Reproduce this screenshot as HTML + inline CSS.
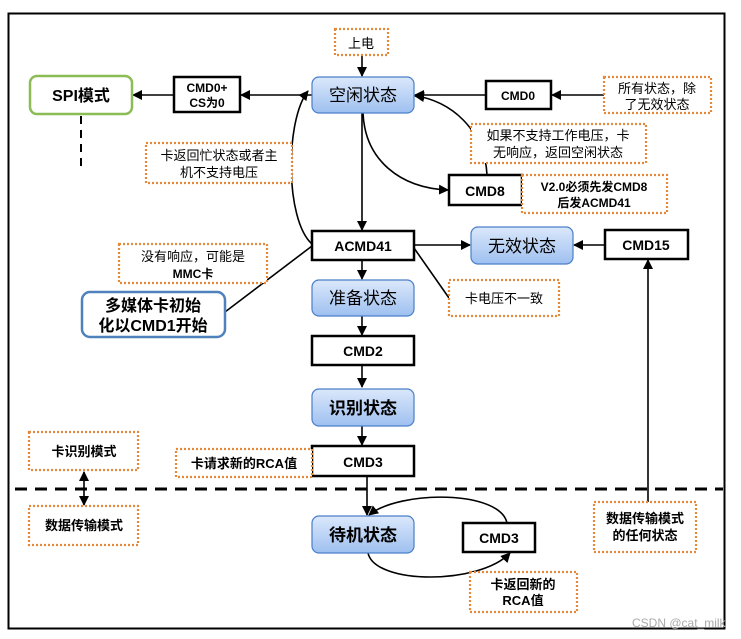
<!DOCTYPE html>
<html><head><meta charset="utf-8"><style>
html,body{margin:0;padding:0;background:#fff;}
svg{display:block;font-family:"Liberation Sans","Noto Sans CJK SC",sans-serif;}
</style></head><body>
<svg width="741" height="639" viewBox="0 0 741 639" xmlns="http://www.w3.org/2000/svg">
<defs>
<linearGradient id="bg" x1="0" y1="0" x2="0" y2="1"><stop offset="0" stop-color="#dbe8fb"/><stop offset="1" stop-color="#9ec0f0"/></linearGradient>
<marker id="a" markerWidth="10" markerHeight="10" refX="9" refY="5" orient="auto-start-reverse" markerUnits="userSpaceOnUse"><path d="M0,0 L10,5 L0,10 z" fill="#000"/></marker>
</defs>
<rect x="8.5" y="13.5" width="716" height="615" fill="none" stroke="#000" stroke-width="2"/>
<g fill="none" stroke="#000" stroke-width="1.6">
<line x1="362" y1="55" x2="362" y2="76" marker-end="url(#a)"/>
<line x1="312" y1="95" x2="241" y2="95" marker-end="url(#a)"/>
<line x1="174" y1="95" x2="133" y2="95" marker-end="url(#a)"/>
<line x1="486" y1="95" x2="415" y2="95" marker-end="url(#a)"/>
<line x1="604" y1="95" x2="552" y2="95" marker-end="url(#a)"/>
<line x1="362" y1="113" x2="362" y2="230" marker-end="url(#a)"/>
<path d="M363,113 C365,160 400,188 448,190" marker-end="url(#a)"/>
<path d="M487,175 C485,130 450,100 415,96" marker-end="url(#a)"/>
<path d="M312,244 C285,220 285,120 308,91" marker-end="url(#a)"/>
<line x1="312" y1="246" x2="225" y2="312"/>
<line x1="414" y1="248" x2="449" y2="298"/>
<line x1="414" y1="245" x2="470" y2="245" marker-end="url(#a)"/>
<line x1="605" y1="245" x2="574" y2="245" marker-end="url(#a)"/>
<line x1="648" y1="502" x2="648" y2="260" marker-end="url(#a)"/>
<line x1="362" y1="260" x2="362" y2="279" marker-end="url(#a)"/>
<line x1="362" y1="316" x2="362" y2="335" marker-end="url(#a)"/>
<line x1="362" y1="365" x2="362" y2="387" marker-end="url(#a)"/>
<line x1="362" y1="426" x2="362" y2="445" marker-end="url(#a)"/>
<line x1="367" y1="476" x2="367" y2="515" marker-end="url(#a)"/>
<path d="M507,523 C500,490 400,490 369,515" marker-end="url(#a)"/>
<path d="M368,553 C375,585 480,585 510,553" marker-end="url(#a)"/>
<line x1="84" y1="472" x2="84" y2="505" marker-start="url(#a)" marker-end="url(#a)"/>
</g>
<line x1="81" y1="116" x2="81" y2="170" stroke="#000" stroke-width="2" stroke-dasharray="8,6"/>
<line x1="15" y1="489" x2="723" y2="489" stroke="#000" stroke-width="3" stroke-dasharray="12,8"/>
<g stroke="#4a7fc9" stroke-width="1.2" fill="url(#bg)">
<rect x="312" y="77" width="102" height="36" rx="7"/>
<rect x="471" y="227" width="102" height="37" rx="7"/>
<rect x="312" y="280" width="102" height="36" rx="7"/>
<rect x="312" y="389" width="102" height="37" rx="7"/>
<rect x="312" y="516" width="102" height="37" rx="7"/>
</g>
<rect x="30" y="76" width="102" height="38" rx="7" fill="#fff" stroke="#8cbc55" stroke-width="2.5"/>
<rect x="82" y="292" width="143" height="45" rx="8" fill="#fff" stroke="#4f81bd" stroke-width="2.5"/>
<g fill="#fff" stroke="#000" stroke-width="2.5">
<rect x="174" y="77" width="66" height="35"/>
<rect x="486" y="81" width="65" height="28"/>
<rect x="449" y="175" width="73" height="30"/>
<rect x="312" y="231" width="102" height="29"/>
<rect x="605" y="230" width="83" height="29"/>
<rect x="312" y="336" width="102" height="29"/>
<rect x="312" y="446" width="102" height="30"/>
<rect x="463" y="523" width="72" height="29"/>
</g>
<g fill="#fff" stroke="#e6883a" stroke-width="2.2" stroke-dasharray="2,2">
<rect x="335" y="29" width="53" height="26"/>
<rect x="604" y="77" width="107" height="36"/>
<rect x="471" y="124" width="175" height="39"/>
<rect x="522" y="175" width="145" height="38"/>
<rect x="146" y="143" width="146" height="40"/>
<rect x="119" y="244" width="148" height="39"/>
<rect x="449" y="280" width="110" height="36"/>
<rect x="176" y="449" width="136" height="28"/>
<rect x="29" y="432" width="109" height="38"/>
<rect x="29" y="506" width="109" height="39"/>
<rect x="470" y="572" width="107" height="40"/>
<rect x="594" y="502" width="102" height="50"/>
</g>
<g text-anchor="middle" fill="#000">
<text x="361" y="48" font-size="13">上电</text>
<text x="363" y="101" font-size="17">空闲状态</text>
<text x="81" y="101" font-size="16" font-weight="bold">SPI模式</text>
<text x="207" y="92" font-size="12" font-weight="bold">CMD0+</text>
<text x="207" y="107" font-size="12" font-weight="bold">CS为0</text>
<text x="518" y="100" font-size="12" font-weight="bold">CMD0</text>
<text x="657" y="93" font-size="13">所有状态，除</text>
<text x="657" y="109" font-size="13">了无效状态</text>
<text x="558" y="140" font-size="13">如果不支持工作电压，卡</text>
<text x="558" y="157" font-size="13">无响应，返回空闲状态</text>
<text x="485" y="196" font-size="14" font-weight="bold">CMD8</text>
<text x="594" y="191" font-size="12" font-weight="bold">V2.0必须先发CMD8</text>
<text x="594" y="207" font-size="12" font-weight="bold">后发ACMD41</text>
<text x="219" y="160" font-size="13">卡返回忙状态或者主</text>
<text x="219" y="177" font-size="13">机不支持电压</text>
<text x="363" y="251" font-size="14" font-weight="bold">ACMD41</text>
<text x="522" y="252" font-size="17">无效状态</text>
<text x="646" y="250" font-size="14" font-weight="bold">CMD15</text>
<text x="193" y="261" font-size="13">没有响应，可能是</text>
<text x="193" y="278" font-size="12" font-weight="bold">MMC卡</text>
<text x="153" y="311" font-size="16" font-weight="bold">多媒体卡初始</text>
<text x="153" y="331" font-size="16" font-weight="bold">化以CMD1开始</text>
<text x="363" y="304" font-size="17">准备状态</text>
<text x="504" y="303" font-size="13">卡电压不一致</text>
<text x="363" y="356" font-size="14" font-weight="bold">CMD2</text>
<text x="363" y="414" font-size="17" font-weight="bold">识别状态</text>
<text x="363" y="467" font-size="14" font-weight="bold">CMD3</text>
<text x="244" y="468" font-size="13" font-weight="bold">卡请求新的RCA值</text>
<text x="84" y="456" font-size="13" font-weight="bold">卡识别模式</text>
<text x="84" y="530" font-size="13" font-weight="bold">数据传输模式</text>
<text x="363" y="541" font-size="17" font-weight="bold">待机状态</text>
<text x="499" y="543" font-size="14" font-weight="bold">CMD3</text>
<text x="523" y="589" font-size="13" font-weight="bold">卡返回新的</text>
<text x="523" y="605" font-size="13" font-weight="bold">RCA值</text>
<text x="645" y="523" font-size="13" font-weight="bold">数据传输模式</text>
<text x="645" y="540" font-size="13" font-weight="bold">的任何状态</text>
</g>
<text x="632" y="627" font-size="12" fill="#aaa">CSDN @cat_milk</text>
</svg>
</body></html>
